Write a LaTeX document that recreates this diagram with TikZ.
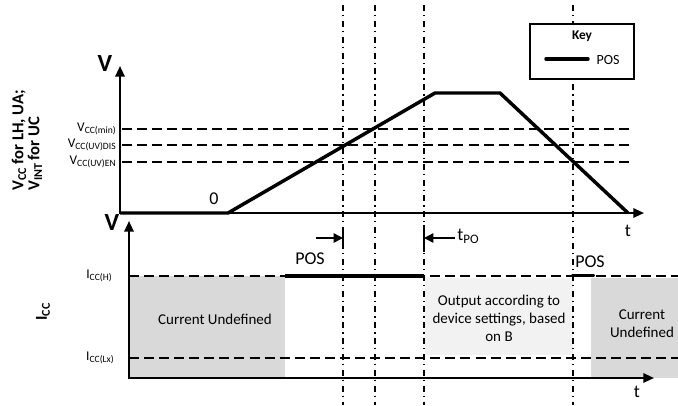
\documentclass[tikz,border=0pt]{standalone}
\usepackage{fontspec}
\setmainfont{Carlito}
\usetikzlibrary{arrows.meta}
\newcommand\lowsub[1]{\raisebox{-0.35ex}{\scalebox{0.72}{#1}}}
\begin{document}
\begin{tikzpicture}[x=0.75pt,y=-0.75pt,
  axisline/.style={line width=1.5pt,-{Triangle[length=8pt,width=7pt]}},
  levelline/.style={line width=1.1pt,dash pattern=on 7.5pt off 3.8pt},
  markline/.style={line width=1.1pt,dash pattern=on 4.5pt off 3pt on 0.9pt off 3.5pt},
  posline/.style={line width=2.9pt},
  rampline/.style={line width=2.6pt,line join=miter},
  tick/.style={line width=1.3pt},
  smallarrow/.style={line width=1.1pt,-{Triangle[length=7pt,width=7pt]}},
  lvl/.style={font=\fontsize{10}{12}\selectfont,anchor=east,inner sep=0pt},
  big/.style={font=\fontsize{13.5}{16}\selectfont,inner sep=0pt},
  bigV/.style={font=\fontsize{18.5}{20}\selectfont\bfseries,inner sep=0pt},
  region/.style={font=\fontsize{11.25}{13.5}\selectfont,align=center,inner sep=0pt},
  ytitle/.style={font=\fontsize{12.5}{14}\selectfont\bfseries,rotate=90,inner sep=0pt}
]
\useasboundingbox (0,0) rectangle (678,405);

% shaded regions
\fill[black!15] (129,276) rectangle (285,378);
\fill[black!5] (425,278) rectangle (573,355);
\fill[black!15] (591,278) rectangle (678,378);

% level lines (top)
\coordinate (minL) at (122,129); \coordinate (minR) at (633,129);
\coordinate (disL) at (122,145); \coordinate (disR) at (633,145);
\coordinate (enL) at (122,162);  \coordinate (enR) at (633,162);
\draw[levelline] (minL) -- (minR);
\draw[levelline] (disL) -- (disR);
\draw[levelline] (enL) -- (enR);

% level lines (bottom)
\coordinate (ihL) at (129,276); \coordinate (ihR) at (678,276);
\coordinate (ilL) at (129,358); \coordinate (ilR) at (678,358);
\draw[levelline] (ihL) -- (ihR);
\draw[levelline] (ilL) -- (ilR);

% vertical time markers
\foreach \n/\x in {a/343,b/375,c/424,d/573}{
  \coordinate (m\n T) at (\x,5);
  \coordinate (m\n B) at (\x,405);
  \draw[markline] (m\n T) -- (m\n B);
}

% bottom stray V label (under axes)
\node[bigV] (vbot) at (112,222) {V};

% top axes
\coordinate (o1) at (120,213);
\coordinate (y1) at (120,66);
\coordinate (x1) at (644,213);
\draw[axisline] (o1) -- (y1);
\draw[axisline] ([xshift=-0.75pt]o1) -- (x1);

% bottom axes
\coordinate (o2) at (129,378);
\coordinate (y2) at (129,221);
\coordinate (x2) at (654,378);
\draw[axisline] (o2) -- (y2);
\draw[axisline] ([xshift=-0.75pt]o2) -- (x2);

% ramp
\coordinate (r0) at (120,213);
\coordinate (r1) at (228,213);
\coordinate (r2) at (435,93);
\coordinate (r3) at (500,93);
\coordinate (r4) at (628,213);
\draw[rampline] (r0) -- (r1) -- (r2) -- (r3) -- (r4);

% POS lines bottom
\coordinate (p1) at (285,276); \coordinate (p2) at (424,276);
\draw[posline] (p1) -- (p2);
\coordinate (p3) at (573,275.5); \coordinate (p4) at (593,275.5);
\draw[posline,line cap=round] (p3) -- (p4);

% tPO marks
\coordinate (ta1) at (343,228); \coordinate (ta2) at (343,249);
\coordinate (tb1) at (424,225); \coordinate (tb2) at (424,252);
\draw[tick] (ta1) -- (ta2);
\draw[tick] (tb1) -- (tb2);
\coordinate (aL) at (316,238); \coordinate (aR) at (343,238);
\draw[smallarrow] (aL) -- (aR);
\coordinate (bR) at (455,238); \coordinate (bL) at (424,238);
\draw[smallarrow] (bR) -- (bL);

% labels
\node[bigV] (vtop) at (105,63) {V};
\node[big] (zero) at (214,199) {0};
\node[big] (ttop) at (628,231) {t};
\node[big] (tbot) at (637,392) {t};
\node[big] (pos1) at (310,259) {POS};
\node[big] (pos2) at (590,262) {POS};
\node[big,anchor=west] (tpo) at (457,236) {t\lowsub{PO}};

\node[lvl] (lmin) at (116,129) {V\lowsub{CC(min)}};
\node[lvl] (ldis) at (116,145) {V\lowsub{CC(UV)DIS}};
\node[lvl] (len) at (116,162) {V\lowsub{CC(UV)EN}};
\node[lvl,anchor=center] (lih) at (99,276) {I\lowsub{CC(H)}};
\node[lvl,anchor=center] (lil) at (100,358) {I\lowsub{CC(Lx)}};

\node[region] (cu1) at (215,319) {Current Undefined};
\node[region] (out) at (499,318) {Output according to\\device settings, based\\on B};
\node[region] (cu2) at (642,324) {Current\\Undefined};

\node[ytitle,anchor=west] (yt1) at (19,191) {V\lowsub{CC} for LH, UA;};
\node[ytitle,anchor=west] (yt2) at (35,191) {V\lowsub{INT} for UC};
\node[ytitle] (yt3) at (43,312) {I\lowsub{CC}};

% key
\node[draw,line width=1pt,fill=white,minimum width=104*0.75pt,minimum height=55*0.75pt,inner sep=0pt] (keybox) at (582,51.5) {};
\node[font=\fontsize{10}{12}\selectfont\bfseries,inner sep=0pt] (keyt) at (582,36) {Key};
\coordinate (k1) at (546,59); \coordinate (k2) at (588,59);
\draw[line width=2.6pt,line cap=round] (k1) -- (k2);
\node[font=\fontsize{10.5}{12}\selectfont,inner sep=0pt] (keypos) at (608,60) {POS};
\end{tikzpicture}
\end{document}
